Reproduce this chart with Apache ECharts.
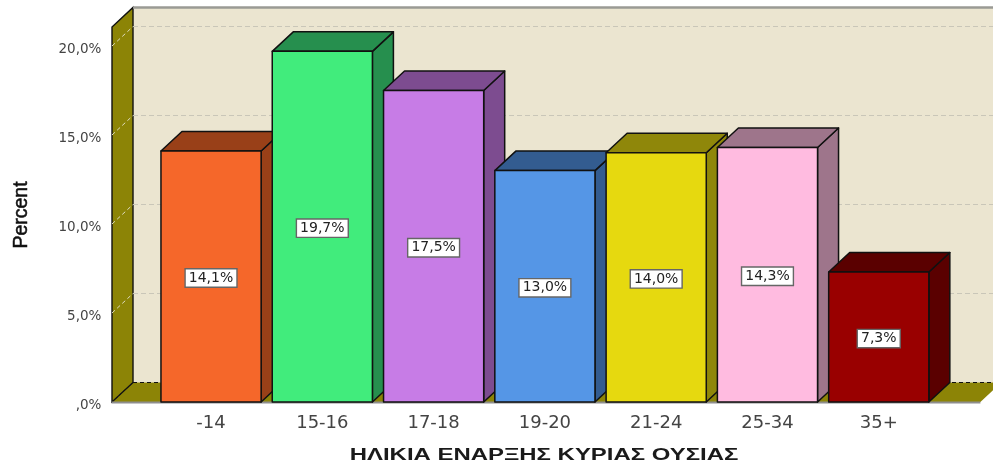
<!DOCTYPE html>
<html>
<head>
<meta charset="utf-8">
<style>html,body{margin:0;padding:0;background:#fff}#c{width:993px;height:466px;filter:blur(0.5px)}</style>
<script src="https://cdn.jsdelivr.net/npm/echarts@6/dist/echarts.min.js"></script>
</head>
<body>
<div id="c"></div>
<script>
const categories = ['-14', '15-16', '17-18', '19-20', '21-24', '25-34', '35+'];
const percents = [14.1, 19.7, 17.5, 13.0, 14.0, 14.3, 7.3];
const frontColors = ['#F5672A', '#41EC7C', '#C77CE6', '#5596E6', '#E6D90F', '#FFBBE0', '#990000'];
const darkColors = ['#994018', '#268F4E', '#7D4C90', '#335C90', '#8F870A', '#9E758B', '#5A0000'];
const gridTicks = [0, 5, 10, 15, 20];
const wallTopValue = 21.07;
const xName = 'ΗΛΙΚΙΑ ΕΝΑΡΞΗΣ ΚΥΡΙΑΣ ΟΥΣΙΑΣ';
const yName = 'Percent';

const DX = 21, DY = -19.5, PAD_L = 43.4, PAD_R = 46, EDGE = '#111';
const fmt = v => (v === 0 ? ',0' : v.toFixed(1).replace('.', ',')) + '%';

function renderWalls(params, api) {
  const cs = params.coordSys;
  const y0 = api.coord([0, 0])[1], yT = api.coord([0, wallTopValue])[1];
  const xL = cs.x - PAD_L, xR = cs.x + cs.width + PAD_R;
  const poly = (points, fill, stroke, lw) => ({type: 'polygon', shape: {points}, style: {fill, stroke: stroke || null, lineWidth: lw || 0}});
  const line = (x1, y1, x2, y2, stroke, lw, dash) => ({type: 'line', shape: {x1, y1, x2, y2}, style: {stroke, lineWidth: lw, lineDash: dash || null}});
  const kids = [
    poly([[xL + DX, yT + DY], [xR + DX, yT + DY], [xR + DX, y0 + DY], [xL + DX, y0 + DY]], '#EBE5D0'),
    poly([[xL, y0], [xL + DX, y0 + DY], [xR + DX, y0 + DY], [xR, y0]], '#8C8406'),
    poly([[xL, y0], [xL, yT], [xL + DX, yT + DY], [xL + DX, y0 + DY]], '#8C8406', EDGE, 1.4)
  ];
  gridTicks.forEach(t => {
    const y = api.coord([0, t])[1];
    if (t > 0) {
      kids.push(line(xL + DX, y + DY, xR + DX, y + DY, '#C9C6B8', 1, [5, 3]));
      kids.push(line(xL, y, xL + DX, y + DY, '#DEDCC0', 1, [4, 3]));
    }
  });
  kids.push(line(xL + DX, y0 + DY, xR + DX, y0 + DY, '#111', 1, [4, 3]));
  kids.push(line(xL, y0, xL + DX, y0 + DY, '#111', 1, [3, 2]));
  kids.push(line(xL + DX, yT + DY, xR + DX, yT + DY, '#9A9A94', 2.5));
  kids.push(line(xL, y0 + 0.5, xR, y0 + 0.5, '#8E8E8E', 2));
  return {type: 'group', children: kids};
}

function renderBars(params, api) {
  const i = api.value(0), v = api.value(1);
  const base = api.coord([i, 0]), top = api.coord([i, v]);
  const w = api.size([1, 0])[0] * 0.9;
  const l = base[0] - w / 2, r = base[0] + w / 2, b = base[1], t = top[1];
  const st = fill => ({fill, stroke: EDGE, lineWidth: 1.5, lineJoin: 'round'});
  return {
    type: 'group',
    children: [
      {type: 'polygon', shape: {points: [[r, t], [r + DX, t + DY], [r + DX, b + DY], [r, b]]}, style: st(darkColors[i])},
      {type: 'polygon', shape: {points: [[l, t], [l + DX, t + DY], [r + DX, t + DY], [r, t]]}, style: st(darkColors[i])},
      {type: 'rect', shape: {x: l, y: t, width: r - l, height: b - t}, style: st(frontColors[i])},
      {type: 'text', x: base[0], y: (t + b) / 2 + 1.5, style: {
        text: fmt(v), x: 0, y: 0, align: 'center', verticalAlign: 'middle',
        font: '14px "DejaVu Sans"', fill: '#222',
        backgroundColor: '#fff', borderColor: '#666', borderWidth: 1.4, padding: [2, 3, 1, 3]
      }}
    ]
  };
}

const chart = echarts.init(document.getElementById('c'), null, {renderer: 'canvas'});
chart.setOption({
  animation: false,
  backgroundColor: '#fff',
  grid: {left: 155.4, top: 46, width: 779, height: 356},
  xAxis: {
    type: 'category', data: categories,
    axisLine: {show: false}, axisTick: {show: false}, splitLine: {show: false},
    axisLabel: {color: '#444', fontFamily: 'DejaVu Sans', fontSize: 18, margin: 12}
  },
  yAxis: {
    type: 'value', min: 0, max: 20, interval: 5,
    axisLine: {show: false}, axisTick: {show: false}, splitLine: {show: false},
    axisLabel: {color: '#444', fontFamily: 'DejaVu Sans', fontSize: 13.5, margin: 54, verticalAlign: 'top', lineHeight: 6, formatter: fmt}
  },
  graphic: [
    {type: 'text', x: 544, y: 455, scaleX: 1.45, z: 5, style: {
      text: xName, align: 'center', verticalAlign: 'middle',
      font: 'bold 16.5px "Liberation Sans"', fill: '#1a1a1a'
    }},
    {type: 'text', x: 22, y: 215, rotation: Math.PI / 2, z: 5, style: {
      text: yName, align: 'center', verticalAlign: 'middle',
      font: '19.5px "Liberation Sans"', fill: '#111', stroke: '#111', lineWidth: 0.5
    }}
  ],
  series: [
    {type: 'custom', coordinateSystem: 'cartesian2d', z: 1, silent: true, data: [[0, 0]], encode: {x: 0, y: 1}, renderItem: renderWalls},
    {type: 'custom', coordinateSystem: 'cartesian2d', z: 2, silent: true, data: percents.map((v, i) => [i, v]), encode: {x: 0, y: 1}, renderItem: renderBars}
  ]
});
</script>
</body>
</html>
